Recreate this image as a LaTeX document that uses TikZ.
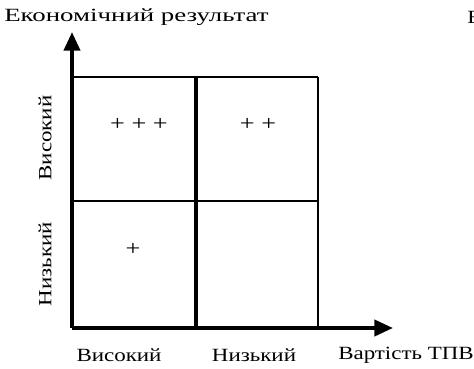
\documentclass[tikz,border=0pt]{standalone}
\usepackage{fontspec}
\setmainfont{Liberation Serif}[FakeStretch=1.23]
\usetikzlibrary{arrows.meta}

\begin{document}
\begin{tikzpicture}[x=0.75pt, y=-0.75pt, font=\fontsize{14}{16}\selectfont,
  axis/.style={line width=3pt, -{Triangle[length=14pt, width=12pt]}},
  thin/.style={line width=1.7pt},
  thick/.style={line width=3pt},
  lbl/.style={inner sep=0pt, anchor=center},
  plusmark/.style={inner sep=0pt, font=\fontsize{16}{18}\selectfont}]
\useasboundingbox (0,0) rectangle (474,368);
% corner points of the matrix
\coordinate (o) at (72,328);
\coordinate (ytop) at (72,32);
\coordinate (xend) at (393,328);
\coordinate (tl) at (72,77);
\coordinate (tm) at (196,77);
\coordinate (tr) at (318,77);
\coordinate (ml) at (72,201);
\coordinate (mr) at (318,201);
\coordinate (bm) at (196,328);
\coordinate (br) at (318,328);
\draw[thin] (tl)--(tr); \draw[thin] (ml)--(mr); \draw[thin] (tr)--(br);
\draw[thick] (tm)--(bm);
\draw[axis] (o)--(ytop); \draw[axis] (o)--(xend);
% labels
\node[lbl, anchor=west, xscale=1.17] (yname) at (4,17) {Економічний результат};
\node[lbl, anchor=west] (cut) at (467,17) {Е};
\node[lbl, rotate=90] (yhigh) at (45,138) {Високий};
\node[lbl, rotate=90] (ylow) at (45,264) {Низький};
\node[lbl] (xhigh) at (119,355) {Високий};
\node[lbl] (xlow) at (254,355) {Низький};
\node[lbl, anchor=west] (xname) at (338,355) {Вартість ТПВ};
\node[plusmark] (hh) at (139,124) {+ + +};
\node[plusmark] (lh) at (258,124) {+ +};
\node[plusmark] (hl) at (133,249) {+};
\end{tikzpicture}
\end{document}
